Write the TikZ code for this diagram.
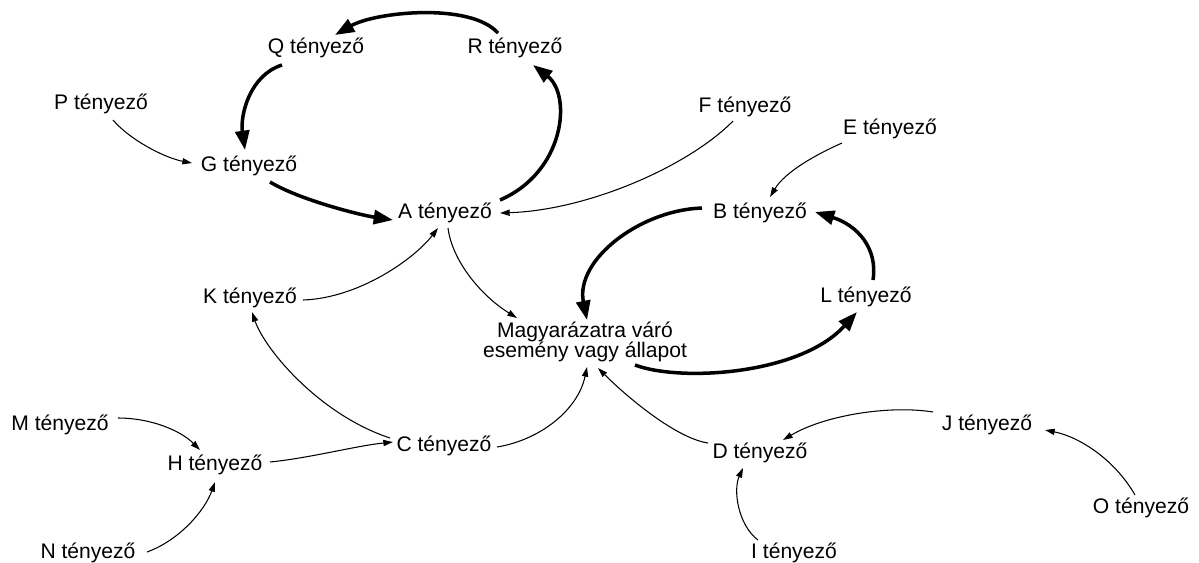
\documentclass[tikz,border=0pt]{standalone}
\usepackage{fontspec}
\setmainfont{Liberation Sans}
\usetikzlibrary{arrows.meta}
\tikzset{
  x=0.02cm, y=-0.02cm,
  factor/.style={inner sep=0pt, font=\fontsize{12}{11.5}\selectfont, text=black},
  bigarrow/.style={line width=2pt, -{Triangle[length=11pt,width=8pt]}},
  smallarrow/.style={line width=0.6pt, -{Triangle[length=5.5pt,width=3.5pt]}}
}
\begin{document}
\begin{tikzpicture}
\useasboundingbox (0,0) rectangle (1199,562);
\node[factor] (Q) at (316,48) {Q tényező};
\node[factor] (R) at (515,48) {R tényező};
\node[factor] (P) at (101,104) {P tényező};
\node[factor] (G) at (249,166) {G tényező};
\node[factor] (A) at (445,213) {A tényező};
\node[factor] (F) at (745,107) {F tényező};
\node[factor] (E) at (890,129) {E tényező};
\node[factor] (B) at (760,213) {B tényező};
\node[factor] (K) at (250,298) {K tényező};
\node[factor, align=center] (Mg) at (585,342) {Magyarázatra váró\\esemény vagy állapot};
\node[factor] (L) at (866,297) {L tényező};
\node[factor] (M) at (60,425) {M tényező};
\node[factor] (H) at (215,465) {H tényező};
\node[factor] (C) at (444,446) {C tényező};
\node[factor] (N) at (88,553) {N tényező};
\node[factor] (D) at (760,453) {D tényező};
\node[factor] (J) at (987,425) {J tényező};
\node[factor] (O) at (1141,508) {O tényező};
\node[factor] (I) at (794,553) {I tényező};

% thick loops
\draw[bigarrow] ([shift={(-17,-15)}]R.center) .. controls (470,2) and (375,12) .. ([shift={(19,-13)}]Q.center);
\draw[bigarrow] ([shift={(-34,17)}]Q.center) .. controls (250,75) and (240,115) .. ([shift={(-4,-16)}]G.center);
\draw[bigarrow] ([shift={(21,16)}]G.center) .. controls (300,200) and (360,215) .. ([shift={(-52,7)}]A.center);
\draw[bigarrow] ([shift={(55,-13)}]A.center) .. controls (565,172) and (572,95) .. ([shift={(18,17)}]R.center);
\draw[bigarrow] ([shift={(-58,-5)}]B.center) .. controls (640,210) and (575,260) .. ([shift={(2,-22)}]Mg.center);
\draw[bigarrow] ([shift={(50,23)}]Mg.center) .. controls (680,382) and (800,375) .. ([shift={(-9,15)}]L.center);
\draw[bigarrow] ([shift={(7,-17)}]L.center) .. controls (878,248) and (857,225) .. ([shift={(55,-1)}]B.center);

% thin links
\draw[smallarrow] ([shift={(12,16)}]P.center) .. controls (130,140) and (165,158) .. ([shift={(-57,-3)}]G.center);
\draw[smallarrow] ([shift={(-12,14)}]F.center) .. controls (690,165) and (590,210) .. ([shift={(55,0)}]A.center);
\draw[smallarrow] ([shift={(-48,14)}]E.center) .. controls (815,155) and (785,172) .. ([shift={(10,-16)}]B.center);
\draw[smallarrow] ([shift={(53,2)}]K.center) .. controls (360,298) and (415,258) .. ([shift={(-7,15)}]A.center);
\draw[smallarrow] ([shift={(3,15)}]A.center) .. controls (452,260) and (480,295) .. ([shift={(-68,-24)}]Mg.center);
\draw[smallarrow] ([shift={(-54,-8)}]C.center) .. controls (320,415) and (265,350) .. ([shift={(2,14)}]K.center);
\draw[smallarrow] ([shift={(53,1)}]C.center) .. controls (540,440) and (578,410) .. ([shift={(2,25)}]Mg.center);
\draw[smallarrow] ([shift={(-52,-10)}]D.center) .. controls (675,438) and (625,395) .. ([shift={(13,26)}]Mg.center);
\draw[smallarrow] ([shift={(55,-3)}]H.center) .. controls (310,458) and (355,446) .. ([shift={(-51,-4)}]C.center);
\draw[smallarrow] ([shift={(58,-7)}]M.center) .. controls (150,418) and (180,430) .. ([shift={(-15,-15)}]H.center);
\draw[smallarrow] ([shift={(59,-1)}]N.center) .. controls (180,540) and (205,510) .. ([shift={(0,17)}]H.center);
\draw[smallarrow] ([shift={(-54,-13)}]J.center) .. controls (890,405) and (825,415) .. ([shift={(23,-13)}]D.center);
\draw[smallarrow] ([shift={(-6,-13)}]O.center) .. controls (1115,460) and (1080,437) .. ([shift={(58,5)}]J.center);
\draw[smallarrow] ([shift={(-36,-13)}]I.center) .. controls (738,525) and (733,490) .. ([shift={(-17,15)}]D.center);
\end{tikzpicture}
\end{document}
